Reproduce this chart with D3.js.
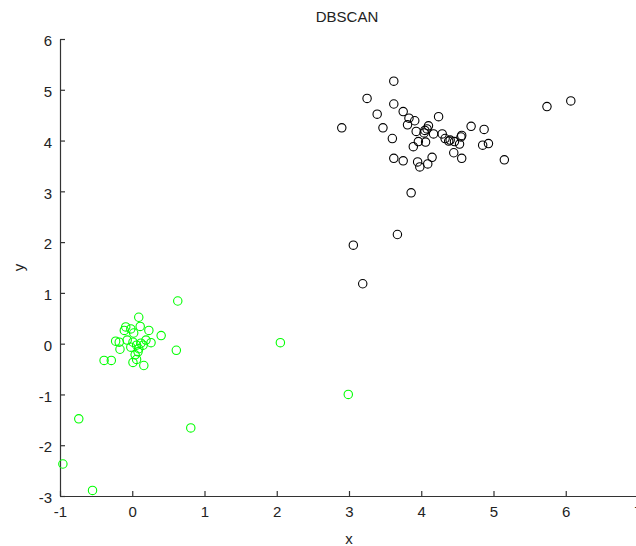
<!DOCTYPE html>
<html>
<head>
<meta charset="utf-8">
<script src="https://cdn.jsdelivr.net/npm/d3@7"></script>
<style>
  body { margin: 0; background: #fff; }
  text { font-family: "Liberation Sans", Arial, sans-serif; }
</style>
</head>
<body>
<div id="chart"></div>
<script>
const width = 636,
    height = 546,
    margin = ({ top: 39, right: -2, bottom: 50, left: 60 });

// cluster points (black)
const clusterX = [3.62, 3.25, 3.62, 3.39, 3.75, 3.83, 3.91, 4.24, 2.90, 3.47, 3.81, 4.10, 3.93, 4.05, 4.04, 4.17, 4.29, 4.69, 4.87, 3.60,
    3.96, 4.06, 3.89, 4.33, 4.38, 4.46, 4.53, 4.55, 4.56, 4.85, 4.93, 6.07, 5.74, 3.62, 3.75, 3.95, 3.98, 4.09, 4.15, 4.45,
    4.56, 5.15, 3.86, 3.67, 3.06, 3.19, 4.08, 4.40];
const clusterY = [5.17, 4.83, 4.72, 4.52, 4.57, 4.44, 4.39, 4.47, 4.25, 4.25, 4.31, 4.29, 4.18, 4.20, 4.15, 4.13, 4.13, 4.28, 4.22, 4.04,
    3.98, 3.97, 3.88, 4.04, 3.99, 3.98, 3.93, 4.07, 4.10, 3.91, 3.94, 4.78, 4.67, 3.65, 3.60, 3.58, 3.48, 3.54, 3.67, 3.76,
    3.65, 3.62, 2.97, 2.15, 1.94, 1.18, 4.23, 4.01];

// second group (green)
const greenX = [0.63, 0.09, 0.11, -0.09, -0.11, -0.02, 0.23, 0.02, 0.40, -0.23, -0.18, -0.07, 0.01, 0.12, 0.19, 0.26, 0.06, -0.02, 0.09, -0.17,
    0.15, 0.61, 0.08, -0.39, -0.29, 0.06, 0.01, 0.16, 2.05, 2.99, -0.74, 0.81, -0.96, -0.55, 0.04];
const greenY = [0.84, 0.52, 0.34, 0.33, 0.26, 0.29, 0.26, 0.21, 0.16, 0.05, 0.03, 0.07, 0.03, 0.01, 0.07, 0.02, -0.03, -0.07, -0.10, -0.11,
    -0.03, -0.13, -0.16, -0.33, -0.33, -0.31, -0.37, -0.43, 0.02, -1.00, -1.48, -1.66, -2.37, -2.89, -0.22];

const xTicks = [-1, 0, 1, 2, 3, 4, 5, 6, 7];
const yTicks = [-3, -2, -1, 0, 1, 2, 3, 4, 5, 6];

const svg = d3.select("#chart")
    .append("svg")
    .attr("width", width)
    .attr("height", height);

let x = d3.scaleLinear()
    .domain([-1, 7])
    .range([margin.left, width - margin.right]);

let y = d3.scaleLinear()
    .domain([-3, 6])
    .range([height - margin.bottom, margin.top]);

// plain hyphen for negatives, like the original
const fmt = d => String(d);

const xAxis = svg.append("g")
    .attr("transform", `translate(0,${height - margin.bottom})`)
    .call(d3.axisBottom(x).tickValues(xTicks).tickFormat(fmt).tickSize(-5).tickSizeOuter(0).tickPadding(10));

const yAxis = svg.append("g")
    .attr("transform", `translate(${margin.left},0)`)
    .call(d3.axisLeft(y).tickValues(yTicks).tickFormat(fmt).tickSize(-5).tickSizeOuter(0).tickPadding(8));

for (let g of [xAxis, yAxis]) {
  g.selectAll("path, line").attr("stroke", "#333").attr("stroke-width", 1.2);
  g.selectAll("text").attr("font-size", 15).attr("fill", "#222")
    .attr("font-family", "Liberation Sans, Arial, sans-serif");
}
yAxis.selectAll("text").attr("dy", "0.45em");

svg.append("text")
    .attr("x", (x(-1) + x(7)) / 2 - 2)
    .attr("y", 22)
    .attr("text-anchor", "middle")
    .attr("font-size", 15)
    .attr("fill", "#222")
    .text("DBSCAN");

svg.append("text")
    .attr("x", (x(-1) + x(7)) / 2)
    .attr("y", 544)
    .attr("text-anchor", "middle")
    .attr("font-size", 15)
    .attr("fill", "#222")
    .text("x");

svg.append("text")
    .attr("transform", `translate(24,${(y(-3) + y(6)) / 2}) rotate(-90)`)
    .attr("text-anchor", "middle")
    .attr("font-size", 15)
    .attr("fill", "#222")
    .text("y");

svg.append("g")
    .selectAll("circle")
    .data(greenX.map((v, i) => [v, greenY[i]]))
    .join("circle")
    .attr("cx", d => x(d[0]))
    .attr("cy", d => y(d[1]))
    .attr("r", 4.2)
    .attr("fill", "none")
    .attr("stroke", "#00ff00")
    .attr("stroke-width", 1.1);

svg.append("g")
    .selectAll("circle")
    .data(clusterX.map((v, i) => [v, clusterY[i]]))
    .join("circle")
    .attr("cx", d => x(d[0]))
    .attr("cy", d => y(d[1]))
    .attr("r", 4.2)
    .attr("fill", "none")
    .attr("stroke", "#000")
    .attr("stroke-width", 1.1);
</script>
</body>
</html>
